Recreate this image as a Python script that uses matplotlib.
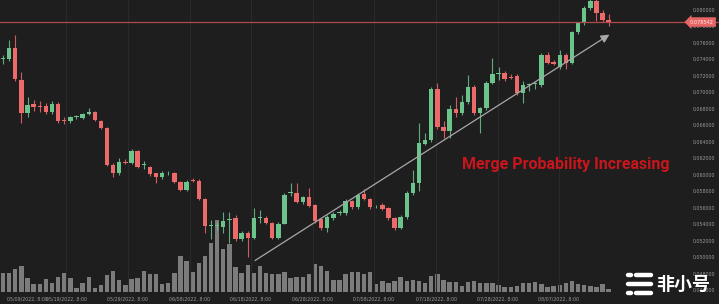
import matplotlib.pyplot as plt
from matplotlib.lines import Line2D

# daily candles
opens = [0.0741, 0.0741, 0.0754, 0.0715, 0.0675, 0.0686, 0.0684, 0.0684, 0.0676, 0.0686,
         0.0667, 0.0665, 0.0670, 0.0669, 0.0674, 0.0676, 0.0665, 0.0657, 0.0612, 0.0602,
         0.0616, 0.0615, 0.0629, 0.0612, 0.0610, 0.0602, 0.0598, 0.0602, 0.0602, 0.0592,
         0.0582, 0.0594, 0.0593, 0.0571, 0.0538, 0.0538, 0.0537, 0.0546, 0.0548, 0.0522,
         0.0530, 0.0524, 0.0548, 0.0548, 0.0542, 0.0524, 0.0541, 0.0578, 0.0578, 0.0567,
         0.0573, 0.0564, 0.0547, 0.0536, 0.0548, 0.0554, 0.0554, 0.0568, 0.0561, 0.0577,
         0.0571, 0.0562, 0.0564, 0.0560, 0.0548, 0.0536, 0.0549, 0.0578, 0.0590, 0.0638,
         0.0642, 0.0704, 0.0658, 0.0653, 0.0680, 0.0675, 0.0688, 0.0707, 0.0675, 0.0681,
         0.0712, 0.0723, 0.0724, 0.0719, 0.0720, 0.0699, 0.0709, 0.0710, 0.0709, 0.0746,
         0.0737, 0.0731, 0.0746, 0.0736, 0.0773, 0.0784, 0.0802, 0.0811, 0.0796, 0.0788]
closes = [0.0741, 0.0754, 0.0716, 0.0675, 0.0685, 0.0682, 0.0683, 0.0676, 0.0686, 0.0665,
          0.0666, 0.0670, 0.0671, 0.0674, 0.0676, 0.0667, 0.0657, 0.0612, 0.0602, 0.0616,
          0.0615, 0.0629, 0.0610, 0.0612, 0.0601, 0.0598, 0.0602, 0.0603, 0.0592, 0.0582,
          0.0592, 0.0593, 0.0571, 0.0538, 0.0538, 0.0539, 0.0544, 0.0547, 0.0522, 0.0530,
          0.0524, 0.0548, 0.0548, 0.0542, 0.0524, 0.0541, 0.0576, 0.0578, 0.0567, 0.0573,
          0.0562, 0.0544, 0.0536, 0.0549, 0.0553, 0.0554, 0.0568, 0.0561, 0.0576, 0.0571,
          0.0561, 0.0562, 0.0559, 0.0548, 0.0536, 0.0549, 0.0578, 0.0590, 0.0639, 0.0642,
          0.0704, 0.0658, 0.0653, 0.0680, 0.0675, 0.0688, 0.0707, 0.0675, 0.0681, 0.0712,
          0.0722, 0.0724, 0.0716, 0.0718, 0.0699, 0.0709, 0.0710, 0.0710, 0.0746, 0.0736,
          0.0735, 0.0746, 0.0736, 0.0773, 0.0784, 0.0802, 0.0811, 0.0796, 0.0788, 0.0785]
highs = [0.0746, 0.0764, 0.0770, 0.0725, 0.0694, 0.0691, 0.0690, 0.0687, 0.0690, 0.0688,
         0.0670, 0.0672, 0.0673, 0.0675, 0.0681, 0.0678, 0.0667, 0.0658, 0.0615, 0.0620,
         0.0619, 0.0631, 0.0630, 0.0617, 0.0611, 0.0603, 0.0605, 0.0605, 0.0604, 0.0593,
         0.0594, 0.0596, 0.0595, 0.0572, 0.0545, 0.0543, 0.0555, 0.0555, 0.0552, 0.0532,
         0.0532, 0.0560, 0.0557, 0.0550, 0.0543, 0.0543, 0.0578, 0.0590, 0.0590, 0.0575,
         0.0584, 0.0565, 0.0548, 0.0551, 0.0555, 0.0557, 0.0571, 0.0570, 0.0578, 0.0583,
         0.0572, 0.0564, 0.0566, 0.0561, 0.0549, 0.0551, 0.0580, 0.0606, 0.0663, 0.0651,
         0.0707, 0.0712, 0.0666, 0.0685, 0.0695, 0.0697, 0.0721, 0.0709, 0.0683, 0.0714,
         0.0742, 0.0731, 0.0726, 0.0722, 0.0722, 0.0714, 0.0712, 0.0713, 0.0748, 0.0749,
         0.0739, 0.0751, 0.0748, 0.0775, 0.0786, 0.0805, 0.0813, 0.0813, 0.0800, 0.0795]
lows = [0.0735, 0.0738, 0.0714, 0.0663, 0.0670, 0.0678, 0.0676, 0.0674, 0.0674, 0.0663,
        0.0662, 0.0663, 0.0668, 0.0668, 0.0673, 0.0666, 0.0656, 0.0611, 0.0597, 0.0600,
        0.0613, 0.0613, 0.0608, 0.0607, 0.0599, 0.0590, 0.0595, 0.0600, 0.0590, 0.0580,
        0.0580, 0.0591, 0.0570, 0.0530, 0.0523, 0.0533, 0.0530, 0.0518, 0.0520, 0.0520,
        0.0500, 0.0522, 0.0542, 0.0540, 0.0523, 0.0522, 0.0540, 0.0574, 0.0566, 0.0565,
        0.0561, 0.0542, 0.0533, 0.0531, 0.0546, 0.0551, 0.0552, 0.0559, 0.0559, 0.0570,
        0.0559, 0.0560, 0.0557, 0.0546, 0.0533, 0.0534, 0.0547, 0.0576, 0.0580, 0.0636,
        0.0640, 0.0656, 0.0645, 0.0645, 0.0670, 0.0673, 0.0686, 0.0673, 0.0651, 0.0679,
        0.0710, 0.0715, 0.0714, 0.0716, 0.0697, 0.0687, 0.0702, 0.0704, 0.0707, 0.0734,
        0.0733, 0.0729, 0.0728, 0.0734, 0.0771, 0.0782, 0.0800, 0.0787, 0.0786, 0.0781]
volumes = [19, 19, 23, 26, 14, 8, 8, 13, 9, 15,
           19, 14, 4, 9, 15, 4, 7, 17, 21, 12,
           7, 13, 14, 21, 18, 18, 8, 9, 19, 36,
           31, 20, 29, 36, 49, 72, 43, 48, 25, 19,
           27, 19, 26, 19, 18, 18, 20, 14, 15, 15,
           18, 28, 26, 21, 12, 12, 18, 20, 20, 18,
           20, 8, 11, 9, 11, 15, 11, 12, 11, 9,
           16, 18, 12, 10, 10, 6, 10, 11, 9, 9,
           9, 7, 5, 5, 6, 9, 9, 10, 8, 5,
           6, 7, 9, 11, 8, 7, 6, 5, 8, 3]

last_price = 0.078542
tick_pos = [4.0, 10.3, 20.4, 30.5, 40.5, 50.6, 60.6, 70.8, 80.9, 90.8]
tick_labels = ["05/09/2022, 8:00", "05/19/2022, 8:00", "05/29/2022, 8:00",
               "06/08/2022, 8:00", "06/18/2022, 8:00", "06/28/2022, 8:00",
               "07/08/2022, 8:00", "07/18/2022, 8:00", "07/28/2022, 8:00",
               "08/07/2022, 8:00"]
price_ticks = [0.046 + 0.002 * k for k in range(18)]

BG = "#1e1e1e"
GREEN = "#6cc48c"
RED = "#ec6a6a"

fig = plt.figure(figsize=(7.19, 3.04), dpi=100, facecolor=BG)
ax = fig.add_axes([0.0, 12 / 304, 687 / 719, 292 / 304])
vax = ax.twinx()
ax.set_zorder(vax.get_zorder() + 1)
ax.patch.set_visible(False)
vax.set_facecolor(BG)

# volume at the bottom
x = list(range(len(opens)))
vax.bar(x, volumes, width=0.72, color="#7c7c7c", zorder=1)
vax.set_ylim(0, 292)
vax.set_yticks([])
for s in vax.spines.values():
    s.set_visible(False)

# candles
for i in x:
    o, c, h, l = opens[i], closes[i], highs[i], lows[i]
    col = GREEN if c >= o else RED
    ax.vlines(i, l, h, color=col, lw=0.8, alpha=0.85, zorder=3)
    ax.bar(i, max(abs(c - o), 0.0001), bottom=min(o, c), width=0.72,
           color=col, zorder=4)

ax.set_xlim(-0.5, 111.8)
ax.set_ylim(0.045818, 0.081212)

for p in tick_pos[1:]:
    ax.axvline(p, color="#2a2a2a", lw=0.8, zorder=0)

ax.set_xticks(tick_pos)
ax.set_xticklabels(tick_labels)
ax.yaxis.tick_right()
ax.set_yticks(price_ticks)
ax.set_yticklabels([f"{v:.6f}" for v in price_ticks])
ax.tick_params(axis="both", length=0, labelsize=3.4, colors="#9a9a9a")
ax.tick_params(axis="x", pad=3)
ax.tick_params(axis="y", pad=4)
for s in ax.spines.values():
    s.set_visible(False)

# last price line and tag
ax.axhline(last_price, xmin=0, xmax=719 / 687, color="#b0494b", lw=0.9,
           clip_on=False, zorder=5)
ax.annotate(f"{last_price:.6f}", xy=(1.0, last_price),
            xycoords=("axes fraction", "data"), xytext=(2, 0),
            textcoords="offset points", fontsize=3.6, color="#ffe6e6",
            va="center", ha="left", zorder=10, annotation_clip=False,
            bbox=dict(boxstyle="larrow,pad=0.45", fc="#e86565", ec="none"))

# trend arrow
ax.annotate("", xy=(99.5, 0.0772), xytext=(40.8, 0.04945),
            arrowprops=dict(arrowstyle="-|>,head_length=0.5,head_width=0.25",
                            color="#a8a8a8", lw=0.9), zorder=6)

ax.text(75.0, 0.0613, "Merge Probability Increasing", color="#c8161c",
        fontsize=11.5, fontweight="bold", family="Roboto", va="center",
        ha="left", zorder=7)

# watermark logo
for (x0, x1, yy) in [(0.873, 0.878, 0.095), (0.885, 0.905, 0.095),
                     (0.873, 0.906, 0.065), (0.873, 0.878, 0.035),
                     (0.885, 0.905, 0.035)]:
    fig.add_artist(Line2D([x0, x1], [yy, yy], color="white", lw=3.2,
                          solid_capstyle="round", transform=fig.transFigure))
fig.text(0.912, 0.065, "非小号", color="white", fontsize=13,
         family=["Noto Sans CJK SC", "DejaVu Sans"], fontweight="bold",
         va="center", ha="left")

fig.savefig("out.png", dpi=100, facecolor=BG)
